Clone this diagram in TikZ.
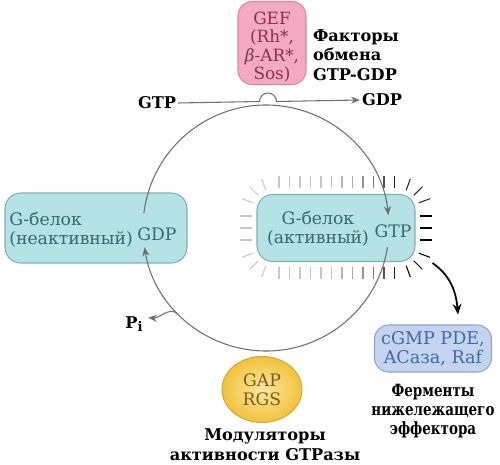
\documentclass[tikz,border=0pt]{standalone}
\usepackage{fontspec}
\setmainfont{DejaVu Serif}
\newfontfamily\narrowfont[FakeStretch=0.8]{DejaVu Serif}
\usetikzlibrary{positioning, arrows.meta, shapes.geometric}

\definecolor{cyanfill}{HTML}{B5E2E5}
\definecolor{cyanedge}{HTML}{7FB0B4}
\definecolor{cyantext}{HTML}{356870}
\definecolor{pinkfill}{HTML}{F5AAC4}
\definecolor{pinkedge}{HTML}{D9859F}
\definecolor{pinktext}{HTML}{8E2F50}
\definecolor{bluefill}{HTML}{C3D3F0}
\definecolor{blueedge}{HTML}{8FA5CE}
\definecolor{bluetext}{HTML}{4467A6}
\definecolor{gapinner}{HTML}{FCE7A0}
\definecolor{gapouter}{HTML}{F2C23C}
\definecolor{gapedge}{HTML}{D4A93A}
\definecolor{gaptext}{HTML}{7B5B1E}
\definecolor{linegrey}{HTML}{6E6E6E}

\tikzset{
    every node/.style={font=\fontsize{9.2}{10.5}\selectfont},
    gbox/.style={draw=cyanedge, fill=cyanfill, rounded corners=9pt, line width=0.6pt, inner sep=0pt},
    boxtext/.style={text=cyantext, inner sep=0pt, font=\fontsize{9.8}{10.8}\selectfont},
    lbl/.style={font=\fontsize{9.2}{11.2}\selectfont\bfseries, align=center, inner sep=1pt},
    cyc/.style={draw=linegrey, line width=0.6pt, -{Stealth[length=5pt, width=4pt]}},
    ray/.style={line width=0.6pt},
}

\begin{document}
\begin{tikzpicture}[x=0.02cm, y=0.02cm]
    \useasboundingbox (0,0) rectangle (500,464);

    % G protein boxes
    \node[gbox, minimum width=3.64cm, minimum height=1.4cm] (inactive) at (96,236) {};
    \node[gbox, minimum width=3.16cm, minimum height=1.34cm] (active) at (336,236) {};
    \node[boxtext, align=left, anchor=base west] (inactivetxt) at (9,220) {G-белок\\(неактивный)};
    \node[boxtext, anchor=base] (gdpin) at (157,224) {GDP};
    \node[boxtext, align=center, anchor=base] (activetxt) at (318,221) {G-белок\\(активный)};
    \node[boxtext, anchor=base] (gtpon) at (393,227) {GTP};

    % halo around the active form
    \foreach \i in {0,...,11}{
        \pgfmathsetmacro\rx{279+10.5*\i}
        \pgfmathtruncatemacro\rs{22+78*((\rx-270)/130)^4}
        \draw[ray, draw=black!\rs] (\rx,276) -- (\rx,288);
        \draw[ray, draw=black!\rs] (\rx,197) -- (\rx,185);
    }
    \foreach \ry in {224,236,248}{
        \draw[ray, draw=black!22] (252,\ry) -- (240,\ry);
        \draw[ray, draw=black] (420,\ry) -- (432,\ry);
    }
    \foreach \a in {20,45,70}{
        \begin{scope}[shift={(399,254)}]
            \draw[ray, draw=black!85] (\a:21) -- (\a:33);
        \end{scope}
        \begin{scope}[shift={(273,254)}]
            \draw[ray, draw=black!22] (180-\a:21) -- (180-\a:33);
        \end{scope}
        \begin{scope}[shift={(273,218)}]
            \draw[ray, draw=black!22] (180+\a:21) -- (180+\a:33);
        \end{scope}
        \begin{scope}[shift={(399,218)}]
            \draw[ray, draw=black] (-\a:21) -- (-\a:33);
        \end{scope}
    }

    % exchange factor
    \node[draw=pinkedge, fill=pinkfill, rounded corners=8pt, line width=0.6pt,
          minimum width=1.36cm, minimum height=1.66cm, inner sep=0pt] (gef) at (272,421) {};
    \node[text=pinktext, align=center, inner sep=0pt, font=\fontsize{9.6}{10.6}\selectfont] (geftxt) at (272,417) {GEF\\(Rh*,\\{\itshape β}-AR*,\\Sos)};
    \node[lbl, align=left, anchor=west] (exchange) at (311,409) {Факторы\\обмена\\GTP-GDP};

    \node[lbl] (gtpin) at (157,361) {GTP};
    \node[lbl] (gdpout) at (382,364) {GDP};

    % effector
    \node[draw=blueedge, fill=bluefill, rounded corners=8pt, line width=0.6pt,
          minimum width=2.34cm, minimum height=0.94cm, inner sep=0pt,
          text=bluetext, align=center, font=\fontsize{10}{11}\selectfont] (effector) at (433,115.5) {cGMP PDE,\\ACаза, Raf};
    \node[lbl, font=\fontsize{9.6}{10.8}\selectfont\narrowfont\bfseries] (effectorlabel) at (433,53) {Ферменты\\нижележащего\\эффектора};

    % GTPase modulators
    \node[ellipse, draw=gapedge, inner color=gapinner, outer color=gapouter, line width=0.6pt,
          minimum width=1.6cm, minimum height=1.32cm, inner sep=0pt,
          text=gaptext, align=center, font=\fontsize{9.8}{11}\selectfont] (gap) at (262,74.5) {GAP\\RGS};
    \node[lbl] (gaplabel) at (265,19) {Модуляторы\\активности GTPазы};

    \node[lbl, inner sep=0pt] (pi) at (134,140) {P\raisebox{-0.45ex}{\fontsize{7.5}{8}\selectfont i}};

    % the cycle
    \coordinate (hub) at (266,236);
    \draw[cyc] ([shift={(173:123)}]hub) arc[start angle=173, end angle=6, radius=123];
    \draw[cyc] ([shift={(-9:123)}]hub) arc[start angle=-9, end angle=-171, radius=123];
    \draw[cyc] ([shift={(224:123)}]hub) to[out=145, in=-5] ([xshift=3pt, yshift=-1pt]pi.north east);
    \draw[cyc] (gtpin.east) -- (259.5,362.5) arc[start angle=180, end angle=0, radius=8.5] -- (gdpout.west);

    \draw[line width=1pt, -{Stealth[length=6pt, width=5pt]}] ([shift={(17,-1)}]active.south east)
        to[out=-35, in=95] ([shift={(25,10)}]effector.north);
\end{tikzpicture}
\end{document}
